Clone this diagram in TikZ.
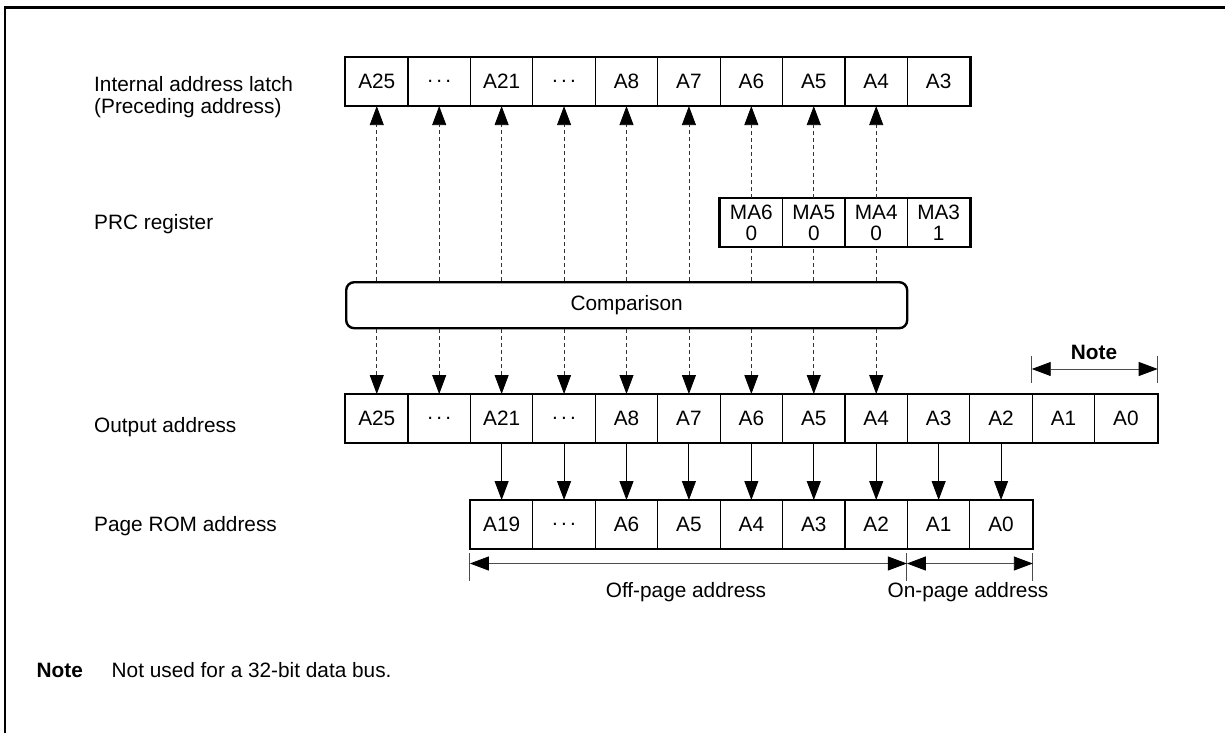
\documentclass[tikz,border=0pt]{standalone}
\usepackage{fontspec}
\setmainfont{Liberation Sans}
\usetikzlibrary{arrows.meta}
\newcommand{\dts}{.\kern3.2pt.\kern3.2pt.}
\tikzset{
  cell/.style={draw, line width=1.1pt, minimum width=62.43pt, minimum height=48pt, inner sep=0pt, anchor=north west},
  frameline/.style={line width=2.4pt},
  rowframe/.style={line width=2.4pt},
  tip/.style={-{Triangle[length=19pt,width=14pt,color=black,fill=black]}},
  bothtips/.style={{Triangle[length=19pt,width=14pt,color=black,fill=black]}-{Triangle[length=19pt,width=14pt,color=black,fill=black]}},
  dasharr/.style={line width=0.8pt, dash pattern=on 4pt off 3pt, black!80},
  solidarr/.style={line width=1pt},
  dimline/.style={line width=0.9pt, black!70},
  extline/.style={line width=1.2pt, black!70},
  lbl/.style={inner sep=0pt, anchor=west, align=left},
}
\begin{document}
\begin{tikzpicture}[x=1pt,y=-1pt,font=\fontsize{20.8}{22}\selectfont]
\useasboundingbox (0,0) rectangle (1225,733);
% frame
\draw[frameline] (5,733) -- (5,7.5) -- (1225,7.5);
% left labels
\node[lbl] (lab1) at (94,97) {Internal address latch\\(Preceding address)};
\node[lbl] (lab2) at (94,224) {PRC register};
\node[lbl] (lab3) at (94,427) {Output address};
\node[lbl] (lab4) at (94,526) {Page ROM address};
% row 1: internal address latch
\foreach \t [count=\i from 0] in {A25,\dts,A21,\dts,A8,A7,A6,A5,A4,A3}
  \node[cell] (L\i) at ({345+\i*62.43},57) {\t};
\draw[rowframe] (L0.north west) rectangle (L9.south east);
% PRC register
\foreach \t [count=\i from 6] in {MA6\\0,MA5\\0,MA4\\0,MA3\\1}
  \node[cell, align=center, font=\fontsize{20.8}{21}\selectfont] (P\i) at ({345+\i*62.43},198) {\t};
\draw[rowframe] (P6.north west) rectangle (P9.south east);
% Comparison
\node[draw, line width=2.4pt, rounded corners=8pt, minimum width=561pt, minimum height=46pt, anchor=north west, inner sep=0pt] (cmp) at (345,281) {Comparison};
% output address
\foreach \t [count=\i from 0] in {A25,\dts,A21,\dts,A8,A7,A6,A5,A4,A3,A2,A1,A0}
  \node[cell] (O\i) at ({345+\i*62.43},394) {\t};
\draw[rowframe] (O0.north west) rectangle (O12.south east);
% page ROM address
\foreach \t [count=\i from 2] in {A19,\dts,A6,A5,A4,A3,A2,A1,A0}
  \node[cell] (R\i) at ({345+\i*62.43},500) {\t};
\draw[rowframe] (R2.north west) rectangle (R10.south east);
% dashed arrows up to latch
\foreach \i in {0,...,5}
  \draw[dasharr,tip] (L\i.south |- cmp.north) -- (L\i.south);
\foreach \i in {6,7,8} {
  \draw[dasharr,tip] (P\i.north) -- (L\i.south);
  \draw[dasharr] (cmp.north -| P\i.south) -- (P\i.south);
}
% dashed arrows down to output
\foreach \i in {0,...,8}
  \draw[dasharr,tip] (O\i.north |- cmp.south) -- (O\i.north);
% solid arrows output -> page ROM
\foreach \i in {2,...,10}
  \draw[solidarr,tip] (O\i.south) -- (R\i.north);
% dimension lines below page ROM
\coordinate (d0t) at (R2.south west |- 0,553);
\coordinate (d0b) at (R2.south west |- 0,581);
\coordinate (d1t) at (R9.south west |- 0,553);
\coordinate (d1b) at (R9.south west |- 0,581);
\coordinate (d2t) at (R10.south east |- 0,553);
\coordinate (d2b) at (R10.south east |- 0,581);
\draw[extline] (d0t) -- (d0b);
\draw[extline] (d1t) -- (d1b);
\draw[extline] (d2t) -- (d2b);
\coordinate (m0) at (R2.south west |- 0,563.5);
\coordinate (m1) at (R9.south west |- 0,563.5);
\coordinate (m2) at (R10.south east |- 0,563.5);
\draw[dimline,bothtips] (m0) -- (m1);
\draw[dimline,bothtips] (m1) -- (m2);
\node (offp) at (686,592) {Off-page address};
\node (onp) at (968,592) {On-page address};
% Note dimension above output row
\coordinate (n0t) at (O11.north west |- 0,356);
\coordinate (n0b) at (O11.north west |- 0,383);
\coordinate (n1t) at (O12.north east |- 0,356);
\coordinate (n1b) at (O12.north east |- 0,383);
\draw[extline] (n0t) -- (n0b);
\draw[extline] (n1t) -- (n1b);
\coordinate (nm0) at (O11.north west |- 0,369);
\coordinate (nm1) at (O12.north east |- 0,369);
\draw[dimline,bothtips] (nm0) -- (nm1);
\node[font=\fontsize{20.8}{22}\selectfont\bfseries] (notelbl) at (1094,352) {Note};
% footnote
\node[inner sep=0pt, anchor=base west, font=\fontsize{20.8}{22}\selectfont\bfseries] (notehd) at (36.5,677) {Note};
\node[inner sep=0pt, anchor=base west] (notetxt) at (111.5,677) {Not used for a 32-bit data bus.};
\end{tikzpicture}
\end{document}
